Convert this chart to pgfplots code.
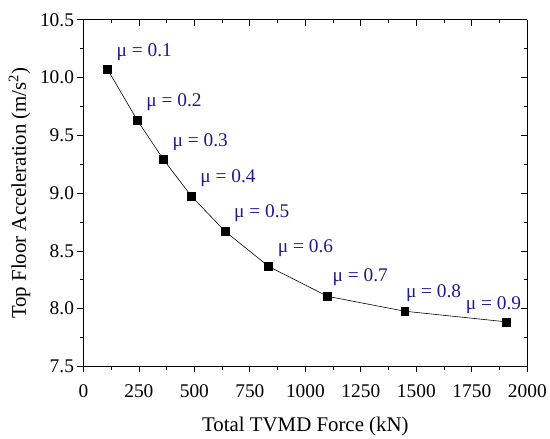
\documentclass[border=0pt]{standalone}
\usepackage{fontspec}
\setmainfont{Liberation Serif}
\usepackage{pgfplots}
\pgfplotsset{compat=1.18}
\usetikzlibrary{calc}
\definecolor{lblblue}{RGB}{28,28,140}

\begin{document}
\begin{tikzpicture}
\pgfplotsset{
  common/.style={
    scale only axis, width=447pt, height=349pt,
    xmin=0, xmax=2000, ymin=7.5, ymax=10.5,
    xtick distance=250, ytick distance=0.5,
    minor x tick num=1, minor y tick num=1,
    major tick length=6pt, minor tick length=3.5pt,
    every tick/.style={black, line width=0.8pt},
    axis line style={line width=0.9pt},
    scaled ticks=false,
  }
}
\begin{axis}[common, name=main,
  axis x line*=bottom, axis y line*=left, tick align=outside,
  /pgf/number format/assume math mode=true,
  /pgf/number format/1000 sep={},
  yticklabel style={/pgf/number format/fixed, /pgf/number format/fixed zerofill, /pgf/number format/precision=1},
  xticklabel style={yshift=-9pt},
  tick label style={font=\fontsize{19.5}{22}\selectfont},
  label style={font=\fontsize{21}{24}\selectfont},
  xlabel={Total TVMD Force (kN)},
  ylabel={Top Floor Acceleration (m/s\textsuperscript{2})},
  xlabel style={yshift=-12pt},
  ylabel style={yshift=3pt},
]
\addplot[black, line width=0.6pt, mark=square*, mark size=4pt, mark options={solid, fill=black}] coordinates {
  (109,10.07) (243,9.63) (361,9.29) (486,8.975) (638,8.67)
  (835,8.365) (1100,8.107) (1448,7.978) (1906,7.886)
};
\begin{scope}[every node/.style={anchor=west, inner sep=0pt, text=lblblue, font=\fontsize{19.5}{22}\selectfont}]
\node at (axis cs:109,10.07)  [xshift=9pt, yshift=18pt] {μ = 0.1};
\node at (axis cs:243,9.63)   [xshift=9pt, yshift=18pt] {μ = 0.2};
\node at (axis cs:361,9.29)   [xshift=9pt, yshift=18pt] {μ = 0.3};
\node at (axis cs:486,8.975)  [xshift=9pt, yshift=18pt] {μ = 0.4};
\node at (axis cs:638,8.67)   [xshift=9pt, yshift=18pt] {μ = 0.5};
\node at (axis cs:835,8.365)  [xshift=9pt, yshift=19pt] {μ = 0.6};
\node at (axis cs:1100,8.107) [xshift=5pt, yshift=19pt] {μ = 0.7};
\node at (axis cs:1448,7.978) [xshift=1pt, yshift=18pt] {μ = 0.8};
\node at (axis cs:1906,7.886) [xshift=-41pt, yshift=17pt] {μ = 0.9};
\end{scope}
\end{axis}
\begin{axis}[common,
  axis x line*=top, axis y line*=right, tick align=inside,
  xticklabels={}, yticklabels={},
]
\end{axis}
\path ($(main.south west)+(-84pt,-68pt)$) rectangle ($(main.north east)+(19pt,20pt)$);
\end{tikzpicture}
\end{document}
